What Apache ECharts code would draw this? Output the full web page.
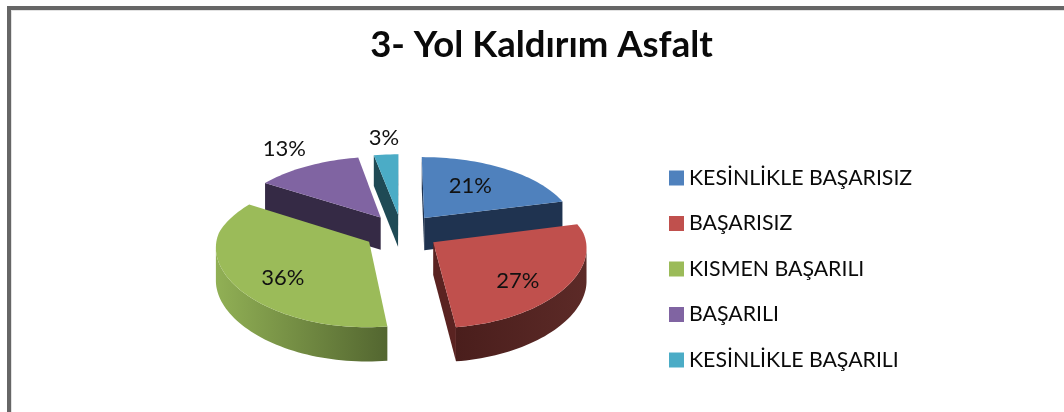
<!DOCTYPE html>
<html>
<head>
<meta charset="utf-8">
<title>3- Yol Kaldırım Asfalt</title>
<script src="https://cdn.jsdelivr.net/npm/echarts@6/dist/echarts.min.js"></script>
<style>
  html, body { margin: 0; padding: 0; background: #fff; }
  #chart { width: 1064px; height: 412px; }
</style>
</head>
<body>
<div id="chart"></div>
<script>
const categories = [
  "KESİNLİKLE BAŞARISIZ",
  "BAŞARISIZ",
  "KISMEN BAŞARILI",
  "BAŞARILI",
  "KESİNLİKLE BAŞARILI",
];
const values = [21, 27, 36, 13, 3];

const topColors = ["#4f81bd", "#c0504d", "#9bbb59", "#8064a2", "#4bacc6"];
const faceColors = ["#1f3350", "#5a2321", "#5f7536", "#352a45", "#1f4a55"];
const wallColors = [
  ["#1f3350", "#1f3350"],
  ["#4a1e1c", "#5c2a27"],
  ["#91b055", "#536630"],
  ["#352a45", "#352a45"],
  ["#1f4a55", "#1f4a55"],
];
// label placement: radial factor, then small nudge in px
const labelRadius = [0.5, 0.7, 0.7, 1.2, 1.2];
const labelNudge = [[4, -6], [-7, 8], [7, 7], [-10, -8], [0, -6]];

const FONT = "Lato, Carlito, Calibri, sans-serif";
const CX = 401.5;
const CY = 232;
const RADIUS = 151.5;
const EXPLODE = 38;
const TILT = 0.475;
const FOCAL = 1200;

const total = values.reduce((a, b) => a + b, 0);

const project = (x, z) => {
  const s = FOCAL / (FOCAL + z);
  // the front half widens less than the back half narrows
  const sx = z < 0 ? Math.sqrt(s) : s;
  return [CX + x * sx, CY - z * TILT * s];
};

const thickness = (z) => 32.5 - (1.5 * z) / RADIUS;

const down = (p, z) => [p[0], p[1] + thickness(z)];

const renderSlice = (index) => (params, api) => {
  const value = api.value(0);
  const before = api.value(1);
  const a0 = (before / total) * Math.PI * 2;
  const a1 = ((before + value) / total) * Math.PI * 2;
  const mid = (a0 + a1) / 2;
  const ox = EXPLODE * Math.sin(mid);
  const oz = EXPLODE * Math.cos(mid);

  const rim = [];
  const rimZ = [];
  const steps = Math.max(6, Math.round(value * 2));
  for (let i = 0; i <= steps; i++) {
    const t = a0 + ((a1 - a0) * i) / steps;
    const z = oz + RADIUS * Math.cos(t);
    rim.push(project(ox + RADIUS * Math.sin(t), z));
    rimZ.push(z);
  }
  const apex = project(ox, oz);
  const children = [];
  const z2 = Math.round(100 - Math.cos(mid) * 100);

  const face = (p, pz) => {
    // only faces turned to the viewer are drawn
    children.push({
      type: "polygon",
      z2,
      shape: { points: [apex, p, down(p, pz), down(apex, oz)] },
      style: { fill: faceColors[index] },
    });
  };
  if (rim[0][0] < apex[0]) face(rim[0], rimZ[0]);
  if (rim[steps][0] > apex[0]) face(rim[steps], rimZ[steps]);

  // outer wall, the part of the arc running leftwards on screen
  const front = [];
  const frontZ = [];
  for (let i = 0; i < steps; i++) {
    if (rim[i + 1][0] < rim[i][0]) {
      if (!front.length) {
        front.push(rim[i]);
        frontZ.push(rimZ[i]);
      }
      front.push(rim[i + 1]);
      frontZ.push(rimZ[i + 1]);
    }
  }
  if (front.length > 1) {
    const lower = front.map((p, i) => down(p, frontZ[i])).reverse();
    children.push({
      type: "polygon",
      z2,
      shape: { points: front.concat(lower) },
      style: {
        fill: new echarts.graphic.LinearGradient(0, 0, 1, 0, [
          { offset: 0, color: wallColors[index][0] },
          { offset: 1, color: wallColors[index][1] },
        ]),
      },
    });
  }

  children.push({
    type: "polygon",
    z2,
    shape: { points: [apex].concat(rim) },
    style: { fill: topColors[index] },
  });

  const f = labelRadius[index];
  const lp = project(
    ox + RADIUS * f * Math.sin(mid),
    oz + RADIUS * f * Math.cos(mid)
  );
  children.push({
    type: "text",
    z2: 500,
    x: lp[0] + labelNudge[index][0],
    y: lp[1] + labelNudge[index][1],
    style: {
      text: value + "%",
      fill: "#111",
      font: "22px " + FONT,
      align: "center",
      verticalAlign: "middle",
    },
  });

  return { type: "group", children };
};

let running = 0;
const series = categories.map((name, i) => {
  const start = running;
  running += values[i];
  return {
    type: "custom",
    name,
    coordinateSystem: "none",
    silent: true,
    animation: false,
    itemStyle: { color: topColors[i] },
    data: [[values[i], start]],
    renderItem: renderSlice(i),
  };
});

const chart = echarts.init(document.getElementById("chart"));
chart.setOption({
  backgroundColor: "#fff",
  animation: false,
  title: {
    text: "3- Yol Kaldırım Asfalt",
    left: 536.5,
    top: 22,
    textAlign: "center",
    textStyle: {
      fontFamily: FONT,
      fontWeight: "bold",
      fontSize: 36.5,
      color: "#0a0a0a",
    },
  },
  legend: {
    orient: "vertical",
    left: 664,
    top: 162.5,
    itemWidth: 15,
    itemHeight: 15,
    itemGap: 24.5,
    icon: "rect",
    selectedMode: false,
    textStyle: { fontFamily: FONT, fontSize: 21.3, color: "#0a0a0a" },
    data: categories,
  },
  graphic: [
    { type: "rect", shape: { x: 7, y: 6, width: 1057, height: 4 }, style: { fill: "#666" } },
    { type: "rect", shape: { x: 7, y: 6, width: 4, height: 406 }, style: { fill: "#666" } },
    { type: "rect", shape: { x: 11, y: 10, width: 1053, height: 1 }, style: { fill: "#e2e2e2" } },
    { type: "rect", shape: { x: 11, y: 10, width: 1, height: 402 }, style: { fill: "#e2e2e2" } },
  ],
  series,
});
</script>
</body>
</html>
